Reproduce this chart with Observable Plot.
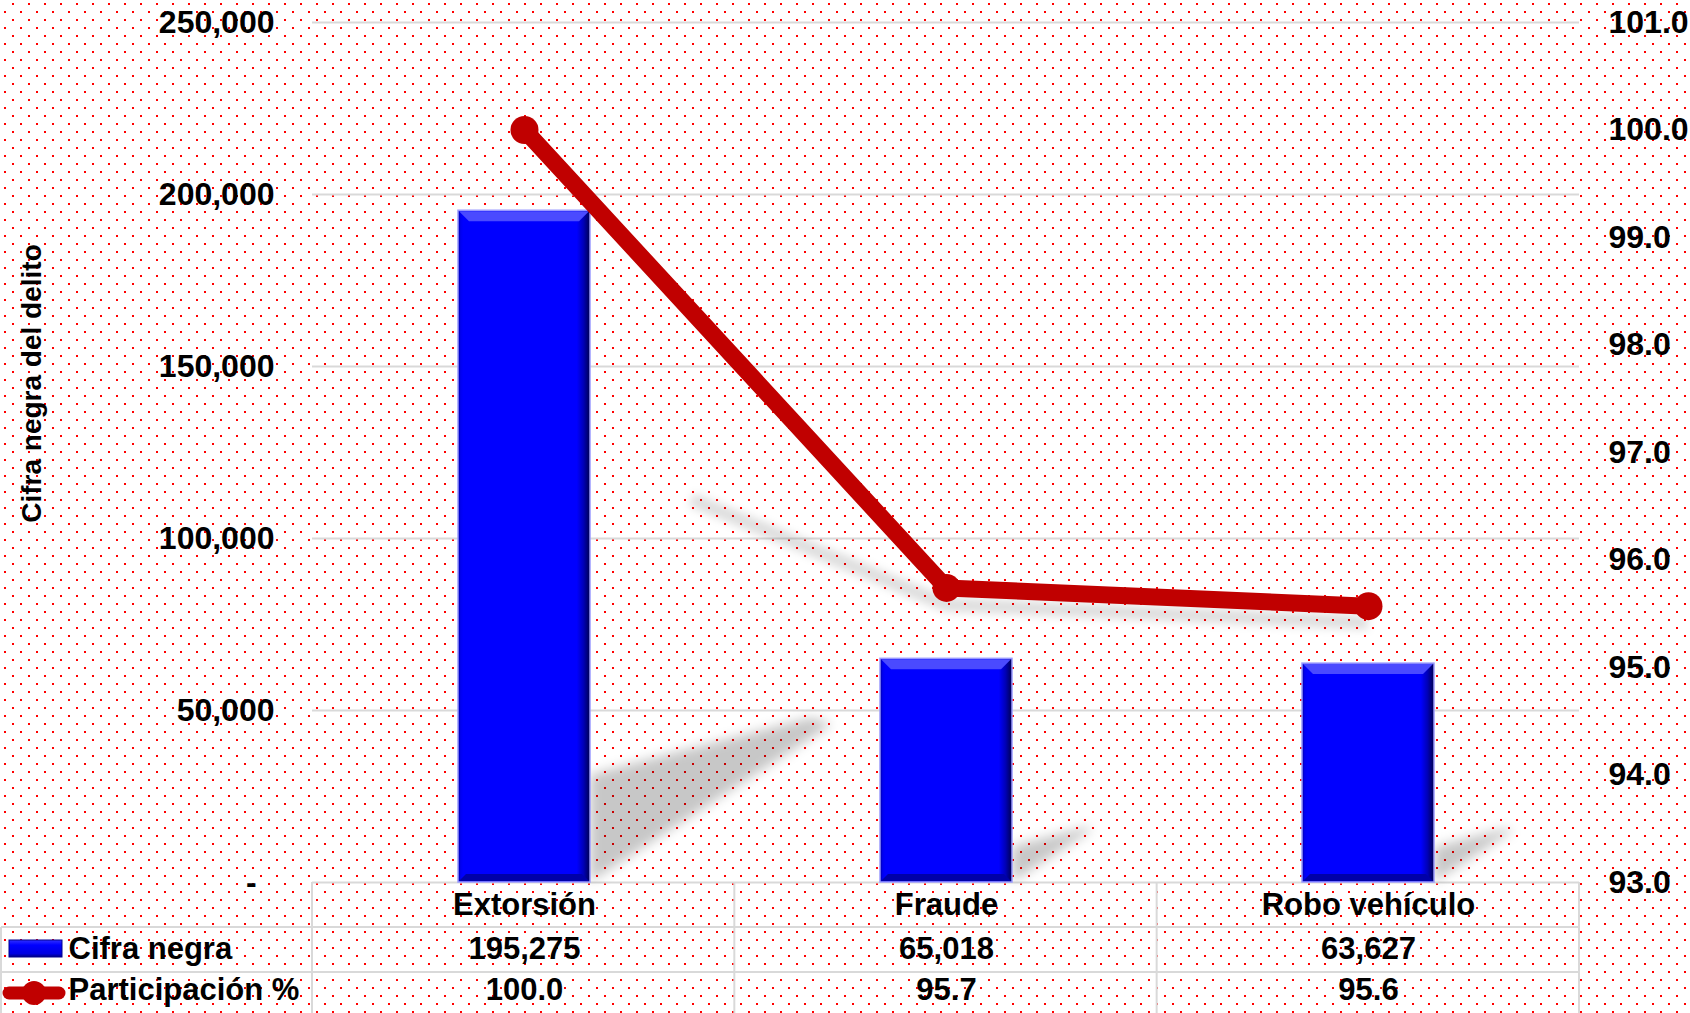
<!DOCTYPE html>
<html><head><meta charset="utf-8">
<script src="https://cdn.jsdelivr.net/npm/d3@7"></script>
<script src="https://cdn.jsdelivr.net/npm/@observablehq/plot@0.6"></script>
<style>
html,body{margin:0;padding:0;width:1690px;height:1013px;overflow:hidden;}
body{background-color:#fff;background-image:url("data:image/svg+xml,%3Csvg xmlns='http://www.w3.org/2000/svg' width='16' height='16'%3E%3Crect x='12' y='3' width='2' height='2' fill='%23ff0000'/%3E%3Crect x='4' y='11' width='2' height='2' fill='%23ff0000'/%3E%3C/svg%3E");background-size:16px 16px;}
#chart svg{display:block;}
</style></head><body><div id="chart"></div>
<script>
// ---- data ----
const categories = ["Extorsión", "Fraude", "Robo vehículo"];
const cifraNegra = [195275, 65018, 63627];
const participacion = [100.0, 95.74, 95.57];
const leftTicks = [0, 50000, 100000, 150000, 200000, 250000];
const rightTicks = [93, 94, 95, 96, 97, 98, 99, 100, 101];
const seriesNames = ["Cifra negra", "Participación %"];
const yTitle = "Cifra negra del delito";

const rows = categories.map((c, i) => ({cat: c, value: cifraNegra[i], pct: participacion[i]}));
const leftMax = 250000, rMin = 93, rMax = 101;
const toLeft = p => (p - rMin) / (rMax - rMin) * leftMax;
const fromLeft = v => v / leftMax * (rMax - rMin) + rMin;

const FONT = "'Liberation Sans', Arial, sans-serif";
const RED = "#C00000";
const text1 = 76, text2 = 117;   // table text offsets below the frame
const key1 = 66, key2 = 111;     // legend key centers below the frame
const rowH = 45;

const chart = Plot.plot({
  width: 1690, height: 1013,
  marginTop: 22, marginBottom: 131, marginLeft: 312, marginRight: 111,
  style: {background: "transparent", fontFamily: FONT, color: "#000", overflow: "visible"},
  x: {domain: categories, padding: 0},
  y: {domain: [0, leftMax]},
  marks: [
    Plot.gridY(leftTicks, {stroke: "#d9d9d9", strokeWidth: 2, strokeOpacity: 1}),
    Plot.barY(rows, {x: "cat", y: "value", fill: "url(#barGrad)", stroke: "#9a9aff", strokeWidth: 1.5, insetLeft: 145, insetRight: 145}),
    Plot.line(rows, {x: "cat", y: d => toLeft(d.pct), stroke: RED, strokeWidth: 17, strokeLinejoin: "round"}),
    Plot.dot(rows, {x: "cat", y: d => toLeft(d.pct), r: 14, fill: RED, stroke: null}),
    Plot.axisY(leftTicks, {anchor: "left", tickSize: 0, tickPadding: 38, label: null, fontSize: 32, fontWeight: "bold",
      tickFormat: d => d === 0 ? "-\u2007" : d3.format(",")(d)}),
    Plot.axisY(rightTicks.map(toLeft), {anchor: "right", tickSize: 0, tickPadding: 29, label: null, fontSize: 32, fontWeight: "bold",
      tickFormat: v => fromLeft(v).toFixed(1)}),
    Plot.axisX({anchor: "bottom", tickSize: 0, tickPadding: 10, label: null, fontSize: 31, fontWeight: "bold"}),
    Plot.text([yTitle], {frameAnchor: "left", textAnchor: "middle", dx: -280, dy: -69, rotate: -90, fontSize: 28, fontWeight: "bold"}),
    Plot.text(rows, {x: "cat", text: d => d3.format(",")(d.value), frameAnchor: "bottom", dy: text1, fontSize: 31, fontWeight: "bold"}),
    Plot.text(rows, {x: "cat", text: d => d.pct.toFixed(1), frameAnchor: "bottom", dy: text2, fontSize: 31, fontWeight: "bold"}),
    Plot.text([seriesNames[0]], {frameAnchor: "bottom-left", dx: -244, dy: text1, textAnchor: "start", fontSize: 31, fontWeight: "bold"}),
    Plot.text([seriesNames[1]], {frameAnchor: "bottom-left", dx: -244, dy: text2, textAnchor: "start", fontSize: 31, fontWeight: "bold"})
  ]
});
document.getElementById("chart").appendChild(chart);

// ---- decoration derived from the scales ----
const svg = d3.select(chart);
const defs = svg.insert("defs", ":first-child");
const g1 = defs.append("linearGradient").attr("id", "barGrad").attr("x1", 0).attr("x2", 1).attr("y1", 0).attr("y2", 0);
[[0, "#0000a0"], [0.02, "#0000f0"], [0.04, "#0000ff"], [0.9, "#0000ff"], [0.95, "#0000b8"], [1, "#000050"]]
  .forEach(([o, c]) => g1.append("stop").attr("offset", o).attr("stop-color", c));
const g2 = defs.append("linearGradient").attr("id", "legGrad").attr("x1", 0).attr("x2", 0).attr("y1", 0).attr("y2", 1);
[[0, "#3030ff"], [0.3, "#0000ff"], [0.8, "#0000e0"], [1, "#000080"]]
  .forEach(([o, c]) => g2.append("stop").attr("offset", o).attr("stop-color", c));
defs.append("filter").attr("id", "blur").attr("x", "-50%").attr("y", "-50%").attr("width", "200%").attr("height", "200%")
  .append("feGaussianBlur").attr("stdDeviation", 6);
defs.append("filter").attr("id", "blur2").attr("x", "-20%").attr("y", "-50%").attr("width", "140%").attr("height", "200%")
  .append("feGaussianBlur").attr("stdDeviation", 4);

const xs = chart.scale("x"), ys = chart.scale("y");
const base = ys.apply(0);

const barG = svg.select('g[aria-label="bar"]');
const rects = barG.selectAll("rect").nodes().map(n => ({
  x: +n.getAttribute("x"), y: +n.getAttribute("y"), w: +n.getAttribute("width"), h: +n.getAttribute("height")
}));
// shadows behind bars
const shG = svg.insert("g", 'g[aria-label="bar"]').attr("filter", "url(#blur)");
rects.forEach(r => {
  const bx = r.x + r.w, by = r.y + r.h, h = r.h;
  shG.append("polygon")
    .attr("points", [[bx, by], [bx, by - 0.16 * h], [bx + 0.33 * h, by - 0.245 * h], [bx + 0.36 * h, by - 0.235 * h]].map(p => p.join(",")).join(" "))
    .attr("fill", "#000").attr("fill-opacity", 0.22);
});
// shadow of the line (projected from the line's own points)
const linePts = rows.map(d => {
  const px = xs.apply(d.cat) + xs.bandwidth / 2, py = ys.apply(toLeft(d.pct));
  const k = Math.max(0, (base - py) - 300);
  return [px + 0.37 * k, py + 17 + 0.78 * k];
});
svg.insert("path", 'g[aria-label="bar"]')
  .attr("d", d3.line()(linePts)).attr("fill", "none").attr("stroke", "#000").attr("stroke-opacity", 0.13)
  .attr("stroke-width", 14).attr("filter", "url(#blur2)");

// bevel highlights on bars
const bevG = svg.insert("g", 'g[aria-label="line"]');
rects.forEach(r => {
  const t = 11;
  bevG.append("polygon")
    .attr("points", [[r.x + 1, r.y + 1], [r.x + r.w - 1, r.y + 1], [r.x + r.w - t, r.y + t], [r.x + t, r.y + t]].map(p => p.join(",")).join(" "))
    .attr("fill", "#4a4aff");
  bevG.append("polygon")
    .attr("points", [[r.x + 1, r.y + r.h - 1], [r.x + r.w - 1, r.y + r.h - 1], [r.x + r.w - 8, r.y + r.h - 8], [r.x + 8, r.y + r.h - 8]].map(p => p.join(",")).join(" "))
    .attr("fill", "#0000a8");
});

// data table grid
const [xr0, xr1] = xs.range;
const step = (xr1 - xr0) / categories.length;
const tg = svg.append("g").attr("stroke", "#d9d9d9").attr("stroke-width", 2);
[base + rowH, base + 2 * rowH].forEach(y => tg.append("line").attr("x1", 1).attr("x2", xr1).attr("y1", y).attr("y2", y));
d3.range(categories.length + 1).forEach(i => {
  const x = xr0 + i * step;
  tg.append("line").attr("x1", x).attr("x2", x).attr("y1", base).attr("y2", 1013);
});
tg.append("line").attr("x1", 1).attr("x2", 1).attr("y1", base + rowH).attr("y2", 1013);

// legend keys
const lg = svg.append("g");
const c1 = base + key1, c2 = base + key2;
lg.append("rect").attr("x", 9).attr("y", c1 - 8).attr("width", 53).attr("height", 17).attr("fill", "url(#legGrad)").attr("stroke", "#000090").attr("stroke-width", 1);
lg.append("line").attr("x1", 9).attr("x2", 59).attr("y1", c2).attr("y2", c2).attr("stroke", RED).attr("stroke-width", 13).attr("stroke-linecap", "round");
lg.append("circle").attr("cx", 34).attr("cy", c2).attr("r", 12).attr("fill", RED);
</script></body></html>
